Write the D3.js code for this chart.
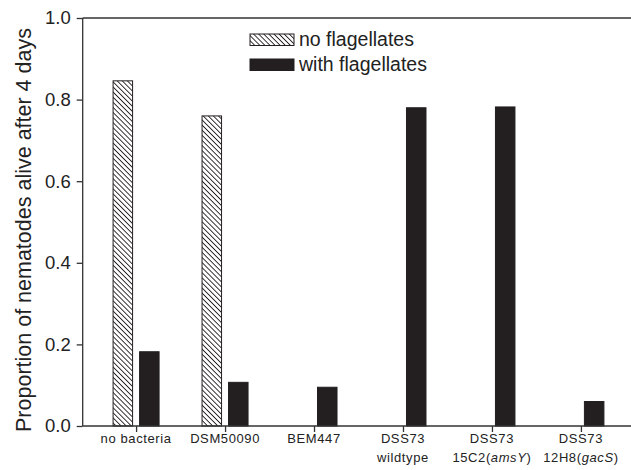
<!DOCTYPE html>
<html>
<head>
<meta charset="utf-8">
<script src="https://cdn.jsdelivr.net/npm/d3@7"></script>
<style>
  html, body { margin: 0; padding: 0; background: #fff; }
  svg { display: block; font-family: "Liberation Sans", Arial, sans-serif; }
</style>
</head>
<body>
<svg id="chart" width="631" height="470"></svg>
<script>
// Strain groups (first line / second line of each axis label)
const categories = ["no bacteria", "DSM50090", "BEM447", "DSS73 wildtype", "DSS73 15C2(amsY)", "DSS73 12H8(gacS)"];
const labelLine1 = ["no bacteria", "DSM50090", "BEM447", "DSS73", "DSS73", "DSS73"];
const labelLine2 = [
  null,
  null,
  null,
  [["wildtype", false]],
  [["15C2(", false], ["amsY", true], [")", false]],
  [["12H8(", false], ["gacS", true], [")", false]]
];

// Proportion of nematodes alive after 4 days
const series = ["no flagellates", "with flagellates"];
const noFlagellates = [0.846, 0.760, 0, 0, 0, 0];
const withFlagellates = [0.182, 0.107, 0.095, 0.780, 0.782, 0.060];

const yTicks = [0, 0.2, 0.4, 0.6, 0.8, 1.0];

const svg = d3.select("#chart");
const ink = "#231f20";
const axisCol = "#333";

// Diagonal hatch fill
const defs = svg.append("defs");
const pat = defs.append("pattern")
  .attr("id", "hatch")
  .attr("patternUnits", "userSpaceOnUse")
  .attr("width", 3.6).attr("height", 3.6)
  .attr("patternTransform", "rotate(-45)");
pat.append("rect").attr("width", 3.6).attr("height", 3.6).attr("fill", "#fff");
pat.append("line").attr("x1", 0).attr("y1", 0).attr("x2", 0).attr("y2", 3.6)
  .attr("stroke", ink).attr("stroke-width", 1.8);

const plotL = 82.7, plotR = 634.3, plotT = 18, plotB = 426;

const x = d3.scalePoint().domain(categories).range([plotL, plotR]).padding(0.6);
const sub = d3.scaleBand().domain(series).range([-23, 23]).paddingInner(0.264).paddingOuter(0);
const y = d3.scaleLinear().domain([0, 1]).range([plotB, plotT]);

const rows = categories.map((c, i) => ({ cat: c, vals: [noFlagellates[i], withFlagellates[i]] }));

// Bars
const g = svg.append("g");
rows.forEach(r => {
  series.forEach((s, k) => {
    const v = r.vals[k];
    if (v <= 0) return;
    g.append("rect")
      .attr("x", x(r.cat) + sub(s))
      .attr("y", y(v))
      .attr("width", sub.bandwidth())
      .attr("height", y(0) - y(v))
      .attr("fill", k === 0 ? "url(#hatch)" : ink)
      .attr("stroke", ink)
      .attr("stroke-width", 1);
  });
});

// Y axis
const yAxis = d3.axisLeft(y).tickValues(yTicks).tickFormat(d3.format(".1f")).tickSize(6).tickPadding(6);
const ya = svg.append("g").attr("transform", `translate(${plotL},0)`).call(yAxis);
ya.select(".domain").attr("stroke", axisCol).attr("stroke-width", 1.3).attr("d", `M0,${plotB}V${plotT}`);
ya.selectAll(".tick line").attr("stroke", axisCol).attr("stroke-width", 1.3);
ya.selectAll(".tick text").attr("fill", "#222").style("font-size", "18.5px");

// X axis
const xAxis = d3.axisBottom(x).tickSize(6).tickFormat("");
const xa = svg.append("g").attr("transform", `translate(0,${plotB})`).call(xAxis);
xa.select(".domain").attr("stroke", axisCol).attr("stroke-width", 1.3).attr("d", `M${plotL},0H${plotR}`);
xa.selectAll(".tick line").attr("stroke", axisCol).attr("stroke-width", 1.3);

// Top frame line
svg.append("line").attr("x1", plotL).attr("x2", plotR).attr("y1", plotT).attr("y2", plotT)
  .attr("stroke", axisCol).attr("stroke-width", 1.3);

// Category labels
categories.forEach((c, i) => {
  svg.append("text")
    .attr("x", x(c)).attr("y", 443)
    .attr("text-anchor", "middle")
    .attr("fill", "#222")
    .style("font-size", "13px")
    .style("letter-spacing", "0.6px")
    .text(labelLine1[i]);
  if (labelLine2[i]) {
    const t2 = svg.append("text")
      .attr("x", x(c)).attr("y", 462)
      .attr("text-anchor", "middle")
      .attr("fill", "#222")
      .style("font-size", "13px")
      .style("letter-spacing", "0.6px");
    labelLine2[i].forEach(([txt, it]) => {
      t2.append("tspan").style("font-style", it ? "italic" : "normal").text(txt);
    });
  }
});

// Y axis title
svg.append("text")
  .attr("transform", `translate(31,${(plotT + plotB) / 2 + 8}) rotate(-90)`)
  .attr("text-anchor", "middle")
  .attr("fill", "#222")
  .style("font-size", "21.5px")
  .text("Proportion of nematodes alive after 4 days");

// Legend
const legend = svg.append("g");
series.forEach((s, k) => {
  const ly = 34 + k * 25;
  legend.append("rect")
    .attr("x", 250).attr("y", ly).attr("width", 44).attr("height", 11.5)
    .attr("fill", k === 0 ? "url(#hatch)" : ink)
    .attr("stroke", ink).attr("stroke-width", 1);
  legend.append("text")
    .attr("x", 299).attr("y", ly + 12)
    .attr("fill", "#222")
    .style("font-size", "19.5px")
    .text(s);
});
</script>
</body>
</html>
